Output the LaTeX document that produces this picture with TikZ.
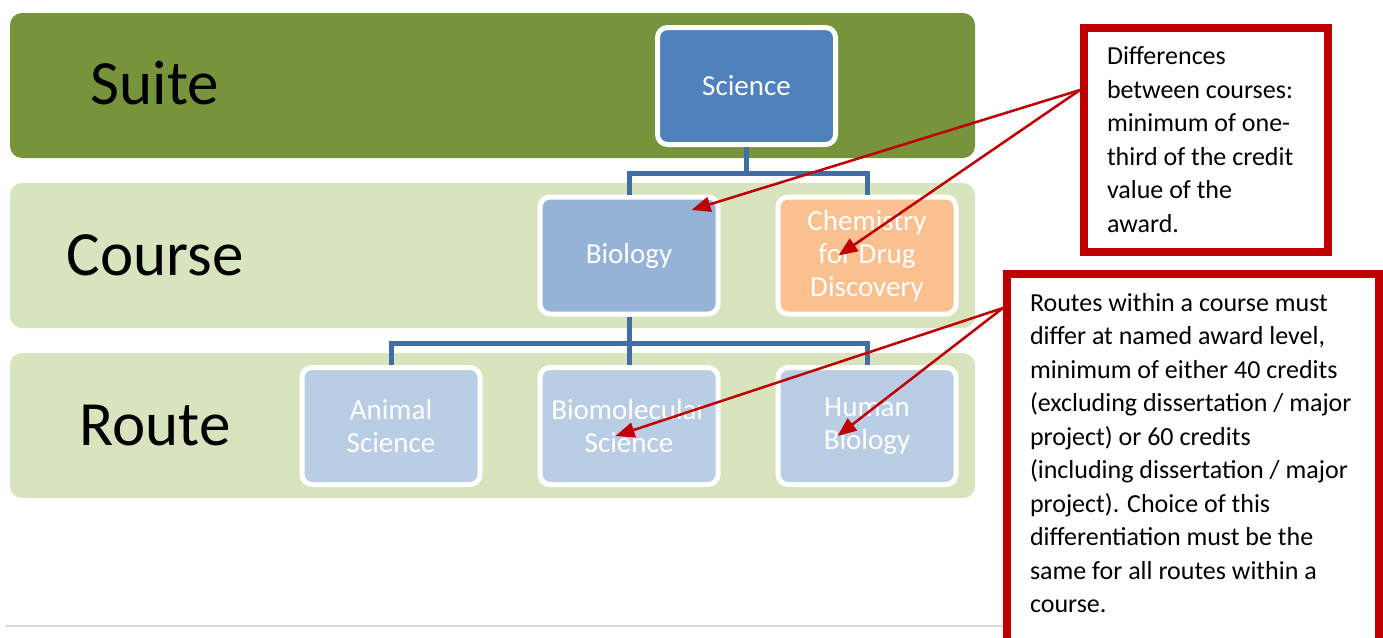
\documentclass[tikz,border=0pt]{standalone}
\usepackage{fontspec}
\setmainfont{Carlito}
\usepackage{tikz}
\usetikzlibrary{positioning,arrows.meta}

\definecolor{suitegreen}{HTML}{77933C}
\definecolor{bandgreen}{HTML}{D7E4BD}
\definecolor{sciblue}{HTML}{4F81BD}
\definecolor{bioblue}{HTML}{95B3D7}
\definecolor{routeblue}{HTML}{B9CDE5}
\definecolor{chemorange}{HTML}{FAC090}
\definecolor{linkblue}{HTML}{426EA6}
\definecolor{notered}{HTML}{C00000}
\definecolor{rulegrey}{HTML}{D9D9D9}

\begin{document}
\begin{tikzpicture}[x=1pt,y=-1pt,>={Triangle[length=19pt,width=15pt]},
                    semithick]
  \tikzstyle{band}=[rounded corners=12pt,minimum width=965pt,minimum height=145pt,inner sep=0pt]
  \tikzstyle{tier}=[font=\fontsize{63}{70}\selectfont,anchor=base]
  \tikzstyle{unit}=[draw=white,line width=5pt,rounded corners=10pt,minimum width=178pt,
                    minimum height=117pt,text=white,align=center,font=\fontsize{29}{33}\selectfont]
  \tikzstyle{link}=[draw=linkblue,line width=5pt]
  \tikzstyle{note}=[draw=notered,line width=8pt,fill=white,anchor=north west,
                    inner xsep=23pt,inner ysep=19pt,font=\fontsize{26}{33.5}\selectfont]
  \tikzstyle{pointer}=[->,draw=notered,line width=2.5pt]

  \useasboundingbox (0,0) rectangle (1383,637);

  % tiers
  \node[band,fill=suitegreen]  (suite)  at (492.5,85.5)  {};
  \node[band,fill=bandgreen]   (course) at (492.5,255.5) {};
  \node[band,fill=bandgreen]   (route)  at (492.5,425.5) {};
  \node[tier] (suiteLbl)  at (155,104) {Suite};
  \node[tier] (courseLbl) at (155,275) {Course};
  \node[tier] (routeLbl)  at (155,445) {Route};

  \draw[rulegrey,line width=1.5pt] (5,626) -- (1383,626);

  % hierarchy
  \node[unit,fill=sciblue]    (sci)                         at (746.5,86) {Science};
  \node[unit,fill=routeblue]  (ani)                         at (391,426)  {Animal\\Science};
  \node[unit,fill=routeblue]  (bmol) [right=55pt of ani]                  {Biomolecular\\Science};
  \node[unit,fill=routeblue]  (hum)  [right=55pt of bmol]                 {Human\\Biology};
  \node[unit,fill=bioblue]    (bio)  [above=48.5pt of bmol]               {Biology};
  \node[unit,fill=chemorange] (chem) [right=55pt of bio]                  {Chemistry\\for Drug\\Discovery};

  \draw[link] (sci.south) -- ++(0,26) -| (bio.north);
  \draw[link] (sci.south) -- ++(0,26) -| (chem.north);
  \draw[link] (bio.south) -- ++(0,26.5) -| (ani.north);
  \draw[link] (bio.south) -- ++(0,26.5) -| (bmol.north);
  \draw[link] (bio.south) -- ++(0,26.5) -| (hum.north);

  % notes
  \node[note] (callA) at (1080,24)
    {\parbox[t][186pt][t]{198pt}{Differences\\between courses:\\minimum of one-\\third of the credit\\value of the\\award.}};
  \node[note] (callB) at (1003,270)
    {\parbox[t][362pt][t]{326pt}{Routes within a course must\\differ at named award level,\\minimum of either 40 credits\\(excluding dissertation / major\\project) or 60 credits\\(including dissertation / major\\project). Choice of this\\differentiation must be the\\same for all routes within a\\course.}};

  \draw[pointer] ([yshift=50pt]callA.west) -- ([xshift=62.5pt,yshift=45.5pt]bio.center);
  \draw[pointer] ([yshift=50pt]callA.west) -- ([xshift=-28.5pt]chem.center);
  \draw[pointer] ([yshift=-38pt]callB.north west) -- ([xshift=-13.5pt,yshift=-10pt]bmol.center);
  \draw[pointer] ([yshift=-38pt]callB.north west) -- ([xshift=-29.5pt,yshift=-10pt]hum.center);
\end{tikzpicture}
\end{document}
